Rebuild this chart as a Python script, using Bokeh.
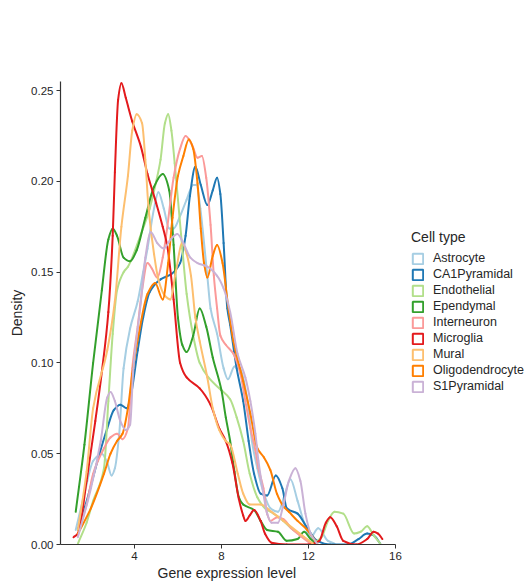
from bokeh.plotting import figure
from bokeh.models import Legend, LegendItem, FixedTicker, PrintfTickFormatter, ColumnDataSource, Range1d, Title
from bokeh.embed import file_html
from bokeh.resources import INLINE

cell_types = ["Astrocyte", "CA1Pyramidal", "Endothelial", "Ependymal", "Interneuron",
              "Microglia", "Mural", "Oligodendrocyte", "S1Pyramidal"]
colors = ["#a6cee3", "#1f78b4", "#b2df8a", "#33a02c", "#fb9a99",
          "#e31a1c", "#fdbf6f", "#ff7f00", "#cab2d6"]

astrocyte_x = [1.3, 1.7, 2.1, 2.5, 2.75, 2.95, 3.1, 3.3, 3.5, 3.8, 4.15, 4.4, 4.6, 4.9, 5.1, 5.35, 5.6, 5.8, 6.1, 6.4, 6.7, 6.85, 7.03, 7.2, 7.35, 7.5, 7.8, 8.1, 8.3, 8.6, 8.85, 9.2, 9.4, 9.65, 9.9, 10.25, 10.6, 10.9, 11.17, 11.5, 11.8, 12.1, 12.45, 12.9, 13.2]
astrocyte_y = [0.008, 0.028, 0.046, 0.050, 0.045, 0.038, 0.042, 0.061, 0.097, 0.119, 0.134, 0.150, 0.163, 0.185, 0.194, 0.185, 0.174, 0.174, 0.181, 0.190, 0.198, 0.198, 0.185, 0.166, 0.148, 0.130, 0.116, 0.097, 0.091, 0.098, 0.097, 0.079, 0.057, 0.042, 0.030, 0.020, 0.018, 0.027, 0.036, 0.024, 0.012, 0.004, 0.009, 0.002, 0.0005]

ca1_x = [1.4, 1.9, 2.3, 2.75, 3.05, 3.35, 3.65, 3.8, 4.15, 4.4, 4.7, 5.2, 5.7, 6.1, 6.35, 6.55, 6.8, 7.05, 7.35, 7.6, 7.8, 7.95, 8.1, 8.27, 8.4, 8.7, 9.0, 9.25, 9.5, 9.8, 10.1, 10.5, 10.8, 11.0, 11.5, 11.95, 12.4, 13.0, 13.8, 14.3, 14.7, 15.0, 15.3]
ca1_y = [0.008, 0.028, 0.046, 0.064, 0.074, 0.077, 0.075, 0.080, 0.107, 0.125, 0.139, 0.146, 0.149, 0.155, 0.170, 0.192, 0.208, 0.198, 0.187, 0.195, 0.202, 0.193, 0.166, 0.130, 0.121, 0.097, 0.079, 0.057, 0.039, 0.028, 0.027, 0.038, 0.031, 0.020, 0.017, 0.009, 0.002, 0.0, 0.0, 0.003, 0.006, 0.005, 0.0005]

endothelial_x = [1.4, 1.8, 2.1, 2.6, 2.8, 3.0, 3.2, 3.5, 3.7, 4.3, 4.7, 5.0, 5.2, 5.4, 5.55, 5.7, 5.85, 6.0, 6.2, 6.4, 6.7, 7.0, 7.4, 7.9, 8.4, 8.7, 9.0, 9.3, 9.65, 10.0, 10.4, 10.85, 11.3, 11.8, 12.2, 12.6, 12.9, 13.2, 13.6, 14.1, 14.4, 14.7, 15.0, 15.3]
endothelial_y = [0.0005, 0.012, 0.024, 0.042, 0.079, 0.116, 0.140, 0.150, 0.153, 0.171, 0.185, 0.200, 0.212, 0.232, 0.237, 0.228, 0.210, 0.190, 0.163, 0.138, 0.115, 0.100, 0.092, 0.086, 0.080, 0.070, 0.057, 0.039, 0.026, 0.020, 0.017, 0.013, 0.008, 0.004, 0.001, 0.004, 0.013, 0.018, 0.017, 0.006, 0.007, 0.010, 0.005, 0.0005]

ependymal_x = [1.3, 1.7, 2.1, 2.5, 2.8, 3.0, 3.2, 3.5, 3.8, 4.1, 4.5, 4.9, 5.3, 5.6, 5.8, 6.0, 6.2, 6.4, 6.7, 7.0, 7.3, 7.6, 8.0, 8.2, 8.4, 8.6, 8.8, 9.0, 9.5, 9.8, 10.1, 10.6, 11.0, 11.5, 11.8, 12.1, 12.4]
ependymal_y = [0.018, 0.055, 0.100, 0.140, 0.168, 0.174, 0.170, 0.158, 0.156, 0.162, 0.180, 0.197, 0.204, 0.195, 0.165, 0.125, 0.110, 0.106, 0.115, 0.130, 0.120, 0.103, 0.085, 0.070, 0.057, 0.040, 0.026, 0.022, 0.019, 0.013, 0.008, 0.007, 0.002, 0.003, 0.007, 0.003, 0.0005]

interneuron_x = [1.4, 1.8, 2.1, 2.6, 2.9, 3.2, 3.45, 3.7, 3.9, 4.15, 4.35, 4.6, 4.8, 5.05, 5.3, 5.5, 5.8, 6.1, 6.35, 6.65, 6.9, 7.1, 7.3, 7.5, 7.65, 7.8, 7.95, 8.2, 8.55, 8.87, 9.1, 9.33, 9.56, 9.7, 9.93, 10.1, 10.25, 10.57, 10.85, 11.2, 11.6, 12.1]
interneuron_y = [0.006, 0.022, 0.039, 0.053, 0.059, 0.061, 0.058, 0.064, 0.097, 0.120, 0.140, 0.155, 0.152, 0.147, 0.158, 0.174, 0.202, 0.218, 0.225, 0.220, 0.213, 0.214, 0.202, 0.176, 0.148, 0.130, 0.115, 0.110, 0.105, 0.094, 0.079, 0.064, 0.052, 0.042, 0.031, 0.017, 0.013, 0.015, 0.014, 0.009, 0.005, 0.0005]

microglia_x = [1.2, 1.4, 1.8, 2.2, 2.5, 2.8, 3.0, 3.1, 3.25, 3.4, 3.6, 3.9, 4.3, 4.6, 5.0, 5.3, 5.5, 5.8, 6.1, 6.4, 7.0, 7.5, 7.9, 8.2, 8.5, 8.8, 9.0, 9.1, 9.3, 9.5, 9.8, 10.0, 10.3, 11.0, 12.0, 12.5, 12.8, 13.0, 13.3, 13.6, 14.2, 14.7, 15.0, 15.2, 15.4]
microglia_y = [0.004, 0.006, 0.035, 0.068, 0.095, 0.128, 0.170, 0.205, 0.245, 0.254, 0.246, 0.233, 0.219, 0.204, 0.188, 0.175, 0.165, 0.135, 0.100, 0.092, 0.086, 0.077, 0.064, 0.057, 0.045, 0.025, 0.016, 0.013, 0.016, 0.019, 0.013, 0.006, 0.001, 0.0, 0.0, 0.002, 0.012, 0.015, 0.010, 0.002, 0.0, 0.003, 0.007, 0.006, 0.003]

mural_x = [1.4, 1.8, 2.1, 2.75, 3.1, 3.4, 3.7, 3.9, 4.1, 4.35, 4.5, 4.65, 4.9, 5.1, 5.4, 5.65, 5.9, 6.2, 6.4, 6.6, 6.8, 7.0, 7.35, 7.6, 7.9, 8.2, 8.4, 8.75, 9.0, 9.3, 9.8, 10.3, 10.85, 11.6, 12.2]
mural_y = [0.008, 0.040, 0.075, 0.107, 0.134, 0.175, 0.203, 0.228, 0.237, 0.232, 0.212, 0.185, 0.160, 0.146, 0.137, 0.135, 0.150, 0.166, 0.160, 0.148, 0.125, 0.112, 0.092, 0.075, 0.063, 0.057, 0.055, 0.039, 0.028, 0.022, 0.022, 0.018, 0.013, 0.006, 0.0005]

oligo_x = [1.4, 2.0, 2.6, 2.9, 3.2, 3.45, 3.7, 3.9, 4.2, 4.6, 4.95, 5.3, 5.55, 5.75, 6.0, 6.25, 6.5, 6.7, 6.9, 7.05, 7.2, 7.35, 7.6, 7.8, 8.05, 8.3, 8.55, 9.0, 9.33, 9.65, 9.95, 10.25, 10.55, 10.85, 11.1, 11.5, 11.95, 12.4]
oligo_y = [0.006, 0.020, 0.039, 0.050, 0.057, 0.061, 0.075, 0.094, 0.116, 0.138, 0.144, 0.135, 0.155, 0.180, 0.203, 0.214, 0.223, 0.218, 0.199, 0.174, 0.155, 0.147, 0.159, 0.165, 0.155, 0.132, 0.112, 0.090, 0.072, 0.053, 0.048, 0.041, 0.028, 0.021, 0.018, 0.013, 0.008, 0.0005]

s1_x = [1.4, 2.0, 2.45, 2.75, 2.9, 3.1, 3.35, 3.6, 3.8, 3.95, 4.15, 4.3, 4.5, 4.75, 5.05, 5.35, 5.66, 5.97, 6.25, 6.57, 6.9, 7.35, 7.8, 8.1, 8.4, 8.74, 9.1, 9.33, 9.56, 9.7, 9.93, 10.1, 10.3, 10.6, 10.85, 11.1, 11.4, 11.63, 11.86, 12.1, 12.4]
s1_y = [0.004, 0.031, 0.057, 0.081, 0.084, 0.079, 0.068, 0.063, 0.066, 0.097, 0.119, 0.134, 0.158, 0.172, 0.166, 0.163, 0.168, 0.171, 0.166, 0.158, 0.155, 0.153, 0.148, 0.141, 0.128, 0.105, 0.092, 0.079, 0.061, 0.046, 0.028, 0.017, 0.012, 0.012, 0.022, 0.035, 0.042, 0.035, 0.017, 0.006, 0.0005]

series_x = [astrocyte_x, ca1_x, endothelial_x, ependymal_x, interneuron_x,
            microglia_x, mural_x, oligo_x, s1_x]
series_y = [astrocyte_y, ca1_y, endothelial_y, ependymal_y, interneuron_y,
            microglia_y, mural_y, oligo_y, s1_y]

x_ticks = [4, 8, 12, 16]
y_ticks = [0.0, 0.05, 0.10, 0.15, 0.20, 0.25]
x_axis_bounds = (0.6, 16.0)

FONT = "Liberation Sans"
TXT = "#262626"


def smooth_segments(xs, ys):
    """Monotone (PCHIP) cubic Bezier segments that pass through the read points."""
    n = len(xs)
    h = [xs[k + 1] - xs[k] for k in range(n - 1)]
    d = [(ys[k + 1] - ys[k]) / h[k] for k in range(n - 1)]
    m = [0.0] * n
    m[0], m[-1] = d[0], d[-1]
    for k in range(1, n - 1):
        if d[k - 1] * d[k] <= 0:
            m[k] = 0.0
        else:
            w1 = 2 * h[k] + h[k - 1]
            w2 = h[k] + 2 * h[k - 1]
            m[k] = (w1 + w2) / (w1 / d[k - 1] + w2 / d[k])
    seg = dict(x0=[], y0=[], x1=[], y1=[], cx0=[], cy0=[], cx1=[], cy1=[])
    for k in range(n - 1):
        seg["x0"].append(xs[k]); seg["y0"].append(ys[k])
        seg["x1"].append(xs[k + 1]); seg["y1"].append(ys[k + 1])
        seg["cx0"].append(xs[k] + h[k] / 3); seg["cy0"].append(ys[k] + m[k] * h[k] / 3)
        seg["cx1"].append(xs[k + 1] - h[k] / 3); seg["cy1"].append(ys[k + 1] - m[k + 1] * h[k] / 3)
    return ColumnDataSource(seg)


# frame spans to the right edge so the legend can sit inside it; the x axis line is bounded at 16
p = figure(width=531, height=586, output_backend="svg", toolbar_location=None,
           x_range=Range1d(0.6, 22.255), y_range=Range1d(0.0, 0.255),
           min_border_left=60, min_border_right=0, min_border_top=81, min_border_bottom=42)
p.background_fill_color = "white"
p.border_fill_color = "white"
p.outline_line_color = None
p.grid.visible = False

for xs, ys, c in zip(series_x, series_y, colors):
    p.bezier(x0="x0", y0="y0", x1="x1", y1="y1", cx0="cx0", cy0="cy0", cx1="cx1", cy1="cy1",
             source=smooth_segments(xs, ys), line_color=c, line_width=2, line_cap="round")

# legend proxies: hollow boxes (no drawable data point)
items = []
for name, c in zip(cell_types, colors):
    src = ColumnDataSource(dict(x=[float("nan")], y=[float("nan")]))
    r = p.rect(x="x", y="y", width=1, height=0.01, source=src,
               fill_color="white", line_color=c, line_width=2)
    items.append(LegendItem(label=name, renderers=[r]))

legend = Legend(items=items, title="Cell type", location=(351, 151))
legend.margin = 0
legend.padding = 6
legend.spacing = 2
legend.glyph_width = 13
legend.glyph_height = 13
legend.label_height = 13
legend.label_standoff = 9
legend.label_text_font = FONT
legend.label_text_font_size = "12.5px"
legend.label_text_color = TXT
legend.title_text_font = FONT
legend.title_text_font_size = "14px"
legend.title_text_font_style = "normal"
legend.title_text_color = TXT
legend.title_standoff = 6
legend.border_line_color = None
legend.background_fill_alpha = 0
p.add_layout(legend)

for ax in (p.xaxis[0], p.yaxis[0]):
    ax.axis_line_color = "#333333"
    ax.axis_line_width = 1.2
    ax.major_tick_line_color = "#333333"
    ax.major_tick_in = 0
    ax.major_tick_out = 4
    ax.minor_tick_line_color = None
    ax.major_label_text_font = FONT
    ax.major_label_text_font_size = "11.5px"
    ax.major_label_text_color = TXT
    ax.axis_label_text_font = FONT
    ax.axis_label_text_font_size = "14px"
    ax.axis_label_text_font_style = "normal"
    ax.axis_label_text_color = TXT

p.xaxis.bounds = x_axis_bounds
p.xaxis.ticker = FixedTicker(ticks=x_ticks)
p.yaxis.ticker = FixedTicker(ticks=y_ticks)
p.yaxis.formatter = PrintfTickFormatter(format="%.2f")
p.yaxis.axis_label = "Density"
p.xaxis.major_label_standoff = 3
p.yaxis.major_label_standoff = 3
p.yaxis.axis_label_standoff = 3

xlabel = Title(text="Gene expression level", align="left", offset=97, standoff=0,
               text_font=FONT, text_font_size="14px", text_font_style="normal", text_color=TXT)
p.add_layout(xlabel, "below")

open("out.html", "w").write(file_html(p, INLINE))
